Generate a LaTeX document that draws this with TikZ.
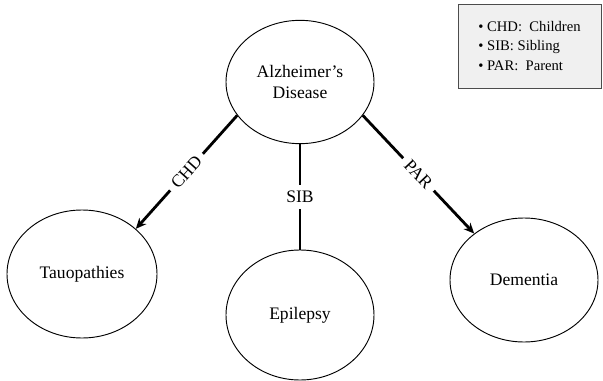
\documentclass[tikz,border=0pt]{standalone}
\usepackage{fontspec}
\setmainfont{Liberation Serif}
\usetikzlibrary{shapes.geometric, positioning, arrows.meta}
\tikzset{
	>={Stealth[length=9pt, width=8pt]}, % puntas de flecha rellenas
	on grid, % distancias entre centros
	every node/.style={font=\fontsize{15}{18}\selectfont},
	disease/.style={ellipse, draw, line width=0.8pt, inner sep=0pt, minimum width=4.44cm, minimum height=3.7cm, align=center}, % enfermedades
	relation/.style={line width=2.4pt}, % aristas gruesas
	tag/.style={fill=white, inner sep=5pt}, % etiqueta sobre la arista
	legend/.style={draw=black!70, fill=black!6, line width=0.6pt, minimum width=4.29cm, minimum height=2.52cm, align=left, font=\fontsize{12.5}{17}\selectfont}
}

\begin{document}
\begin{tikzpicture}
	\useasboundingbox (0,0) rectangle (18.09,-11.43);
	\node[disease] (ad) at (9,-2.46) {Alzheimer's\\Disease};
	\node[disease, minimum height=3.84cm, minimum width=4.5cm, below left=5.76cm and 6.54cm of ad] (ta) {Tauopathies};
	\node[disease, minimum height=3.9cm, below=6.99cm of ad] (ep) {Epilepsy};
	\node[disease, minimum height=3.72cm, below right=5.94cm and 6.72cm of ad] (de) {Dementia};
	\node[legend, above right=1.08cm and 6.885cm of ad] (key) {• CHD:~ Children\\• SIB: Sibling\\• PAR:~ Parent};
	\draw	(ad.208) edge[relation, ->] node[tag, sloped] {CHD} (ta.40)
			(ad.south) edge[relation] node[tag] {SIB} (ep.north)
			(ad.332) edge[relation, ->] node[tag, sloped] {PAR} (de.137)
			;
\end{tikzpicture}
\end{document}
